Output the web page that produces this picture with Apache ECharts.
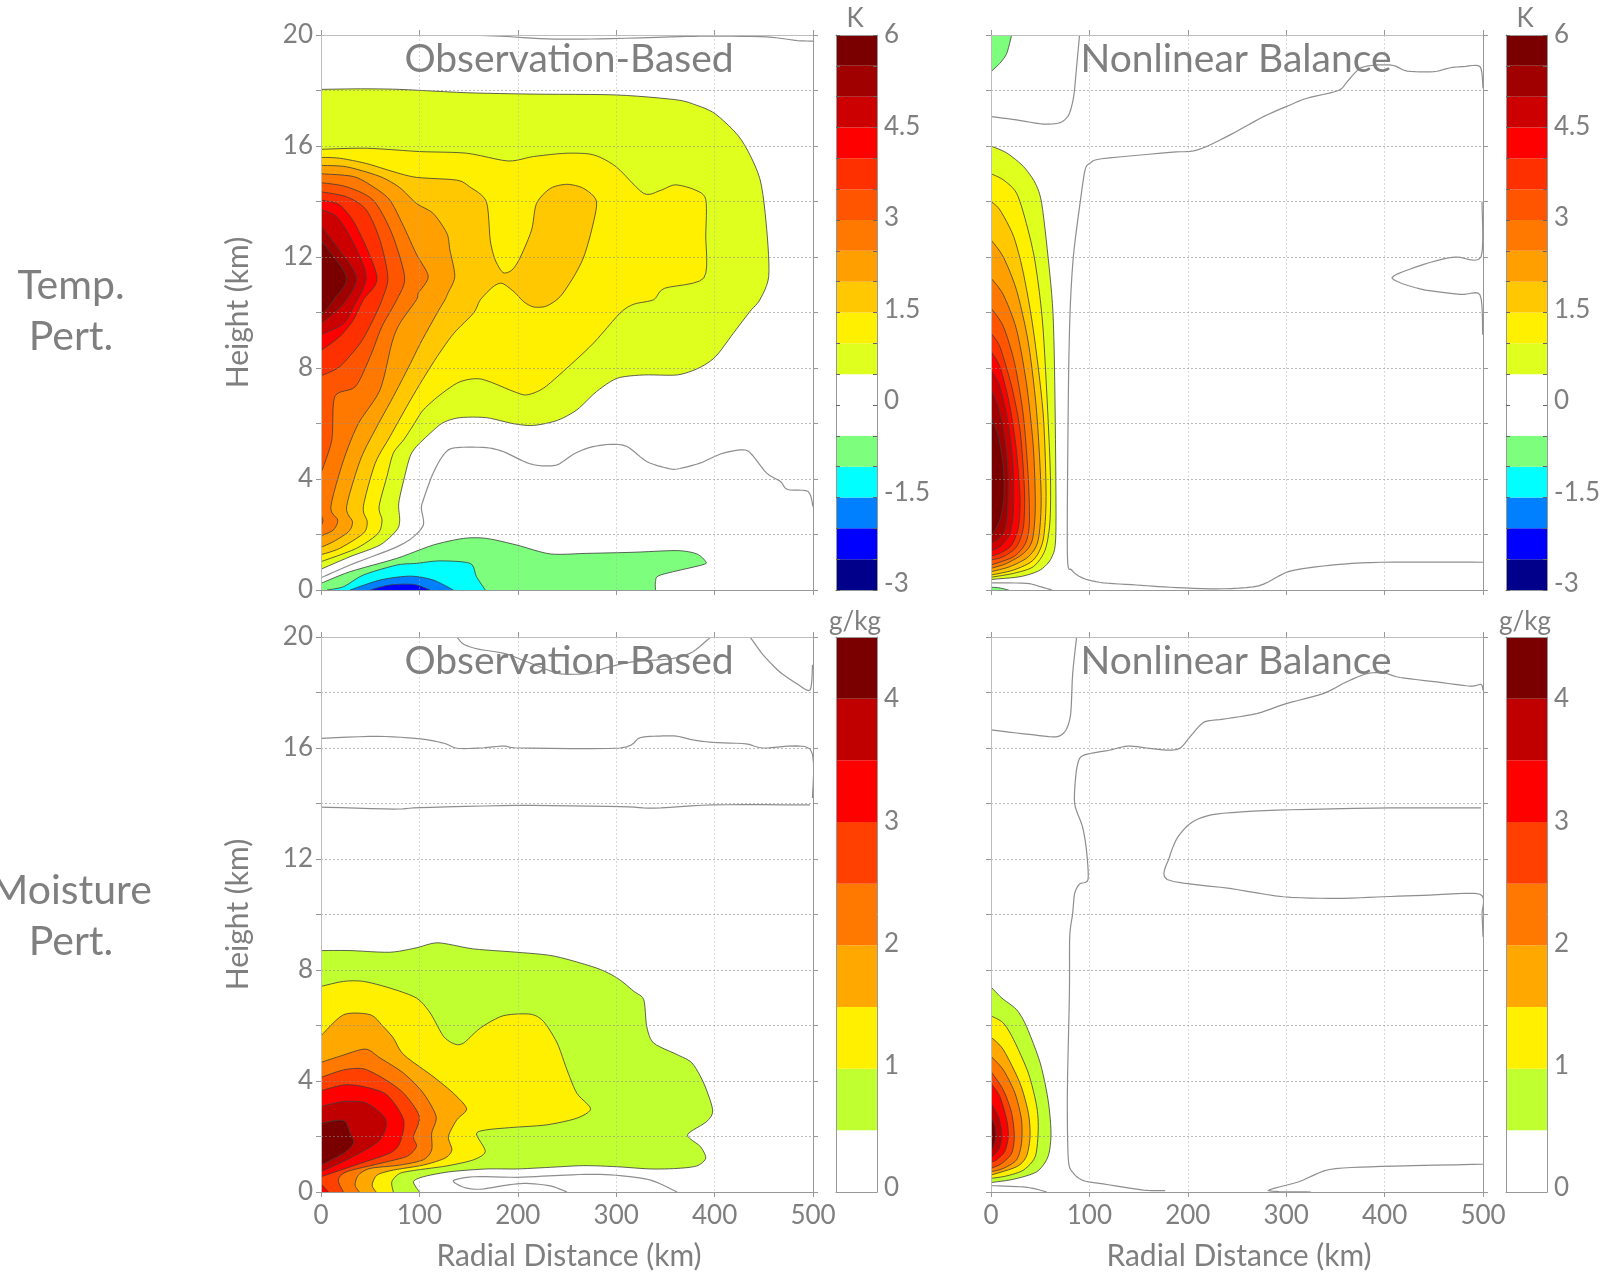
<!DOCTYPE html>
<html><head><meta charset="utf-8">
<style>html,body{margin:0;padding:0;background:#fff;overflow:hidden}#c{width:1604px;height:1275px}</style>
<script src="https://cdn.jsdelivr.net/npm/echarts@6/dist/echarts.min.js"></script></head>
<body><div id="c"></div>
<script>
// ---- colour scales (lower bound of each cell, and its colour) ----
const tempCells = [-3,-2.5,-2,-1.5,-1,-0.5,0,0.5,1,1.5,2,2.5,3,3.5,4,4.5,5,5.5];
const tempColors = ['#00008b','#0000ff','#0080ff','#00ffff','#7dff7d','#ffffff','#ffffff','#dfff1f','#fff000','#ffc800','#ffa000','#ff7800','#ff5500','#ff3000','#ff0000','#cc0000','#a00000','#7a0000'];
const moistCells = [0,0.5,1,1.5,2,2.5,3,3.5,4];
const moistColors = ['#ffffff','#c0ff30','#fff000','#ffa800','#ff7800','#ff4000','#ff0000','#c00000','#7a0000'];

// ---- Temperature, observation-based: [level, contour points (km, km)] ----
const tempObs = [
 [0.5,[[0,18.04],[40,18.06],[80,18.04],[148,17.92],[216,17.87],[300,17.84],[360,17.67],[380,17.49],[401,17.15],[427,16.23],[446,14.82],[453,12.98],[455,11.3],[446,10.46],[436,10.04],[419,9.25],[401,8.41],[384,8],[362,7.75],[328,7.75],[301,7.63],[280,7.15],[260,6.49],[240,6.11],[216,5.93],[196,5.99],[168,6.21],[141,6.21],[124,6.03],[111,5.65],[97,5.17],[90.5,4.81],[85,4.09],[79,3.13],[80,2.52],[77,2.16],[60,1.62],[29.5,1.2],[0,0.75]]],
 [1,[[0,15.88],[46,15.92],[100,15.8],[148,15.74],[190,15.46],[216,15.62],[250,15.74],[277,15.68],[300,15.25],[328,14.29],[345,14.4],[360,14.6],[380,14.42],[391,14.08],[391,12.8],[389,11.24],[349,10.87],[338,10.46],[318,10.3],[304,9.98],[277,8.9],[250,8],[226,7.27],[209,7.03],[196,7.15],[163,7.6],[141,7.5],[121,7.03],[104,6.49],[94,5.95],[84,5.41],[73.5,4.93],[67,4.09],[59,3],[62,2.52],[58,2.04],[36,1.5],[0,1.02]]],
 [1.5,[[0,15.59],[19,15.56],[46,15.37],[74,15.07],[97,14.87],[138,14.77],[151,14.53],[168,14],[172,12.6],[177,11.9],[185,11.44],[194,11.53],[202,11.95],[214,12.97],[219,13.93],[233,14.47],[250,14.62],[267,14.47],[280,14],[275,12.97],[267,12],[257,11.3],[243,10.57],[229,10.23],[216,10.2],[206,10.39],[196,10.75],[184,11.05],[175,10.93],[162,10.46],[155,9.98],[135,9.25],[118,8.41],[101,7.45],[87,6.6],[70,5.52],[55,4.56],[43,3],[47,2.46],[43,2.04],[19,1.5],[0,1.27]]],
 [2,[[0,15.3],[26,15.25],[60,14.9],[80,14.5],[97,13.93],[114,13.57],[128,12.85],[131,12.25],[136,11.3],[129,10.7],[126,10.46],[118,9.98],[101,8.89],[91,8.17],[73.5,6.97],[55,5.77],[40,4.69],[26,3],[32,2.46],[28,2.1],[12.5,1.74],[0,1.54]]],
 [2.5,[[0,15],[33,14.9],[53,14.53],[70,14.05],[84,13.1],[97,12.1],[109,11.3],[99,10.7],[97,10.46],[80,9.6],[72,8.9],[60,7.21],[38,6],[23,4.69],[10,3],[17,2.52],[12.5,2.16],[0,1.95]]],
 [3,[[0,14.68],[26,14.53],[53,14.05],[72,12.85],[85,11.27],[77,10.46],[62,9.5],[50,8.41],[35,7.33],[14,6.97],[11,5.41],[0,4.21]]],
 [3,[[0,2.7],[2,2.5],[0,2.3]]],
 [3.5,[[0,14.35],[26,14.17],[46,13.7],[60,12.6],[68,11.27],[62,10.46],[53,9.74],[40,8.9],[19,8.05],[0,7.72]]],
 [4,[[0,14.05],[19,13.87],[36,13.1],[57,11.27],[43,10.46],[33,9.74],[19,9.13],[0,8.63]]],
 [4.5,[[0,13.7],[16,13.45],[33,12.5],[46,11.27],[33,10.2],[23,9.6],[0,9.2]]],
 [5,[[0,13.1],[16,12.37],[36,11.27],[23,10.33],[0,9.6]]],
 [5.5,[[0,12.6],[26,11.27],[12.5,10.45],[0,9.85]]],
 [-0.5,[[0,0.24],[29.5,0.66],[77,1.14],[114,1.62],[145,1.86],[168,1.86],[199,1.62],[233,1.3],[270,1.32],[318,1.36],[362,1.42],[382,1.3],[391,1.02],[387,0.9],[345,0.54],[340,0.3],[340,0],[0,0]]],
 [-1,[[6,0],[23,0.12],[43,0.54],[77,0.9],[97,0.96],[121,1.05],[151.5,0.96],[158,0.48],[167,0]]],
 [-1.5,[[29.5,0],[60,0.36],[90.5,0.5],[114,0.36],[134.5,0]]],
 [-2,[[50,0],[70,0.18],[94,0.2],[111,0]]]
];
const tempObsZero = [
 [[146,20],[182,19.96],[230,19.86],[284,19.86],[365,19.94],[401,19.96],[453,19.93],[484,19.8],[500,19.78]],
 [[0,0.44],[29.5,0.9],[73.5,1.5],[92,1.86],[104,2.34],[102,2.94],[104,3.25],[112.5,4.09],[121,4.69],[129.5,5.05],[141,5.14],[168,5.13],[185,4.99],[209,4.59],[223,4.48],[240,4.51],[257,4.9],[273.5,5.14],[294,5.25],[311,5.17],[331,4.63],[351.5,4.39],[362,4.36],[385,4.57],[406,4.9],[426,5.05],[436,4.95],[453,4.21],[467,3.91],[474,3.62],[495,3.55],[500,3]]
];

// ---- Temperature, nonlinear balance ----
const tempBal = [
 [-0.5,[[0,18.68],[9,18.98],[16,19.34],[21,20],[0,20]]],
 [-0.5,[[0,0.1],[8,0.08],[18,0],[0,0]]],
 [0.5,[[0,16],[16,15.75],[33,15.26],[45,14.66],[51.5,13.94],[58,12],[63,9.98],[65,6.97],[66,2.16],[62,1.2],[50,0.72],[29.5,0.48],[0,0.38]]],
 [1,[[0,15],[12.5,14.78],[26,14.3],[36,13.2],[45,11.78],[53,9.38],[60,4.57],[60,2.52],[55,1.44],[43,0.84],[23,0.6],[0,0.46]]],
 [1.5,[[0,14],[9,13.7],[23,12.74],[33,11.4],[43,9.38],[53,6.37],[56,3.37],[53,1.8],[43,1.08],[23,0.72],[0,0.54]]],
 [2,[[0,12.62],[12.5,12],[26,10.8],[38,8.9],[46.5,6.37],[51,3.37],[48,1.8],[38,1.2],[19,0.84],[0,0.66]]],
 [2.5,[[0,11.24],[12.5,10.64],[26,9.38],[36,7.45],[43,5.17],[45,3],[42,1.8],[33,1.32],[16,0.96],[0,0.78]]],
 [3,[[0,10.16],[12.5,9.5],[24,8.17],[33,6.25],[38,3.97],[39,2.4],[35,1.68],[23,1.2],[0,0.9]]],
 [3.5,[[0,9.25],[9,8.77],[21,7.33],[29.5,5.77],[34,3.6],[33,2.28],[26,1.56],[12.5,1.2],[0,1.08]]],
 [4,[[0,8.6],[9,8.05],[18.6,6.73],[25.4,5.17],[29.5,3.37],[28,2.28],[21,1.62],[9,1.32],[0,1.23]]],
 [4.5,[[0,7.93],[9,7.33],[17.6,6],[22.7,4.33],[22.7,2.76],[18.6,1.98],[9,1.56],[0,1.42]]],
 [5,[[0,7.2],[7.5,6.6],[14,5.5],[17.6,4.09],[16.6,2.76],[12.5,2.04],[0,1.68]]],
 [5.5,[[0,6.25],[7.5,5.53],[12.5,4.45],[13.2,3.37],[9,2.52],[0,1.92]]]
];
const tempBalZero = [
 [[0,17.06],[26,16.94],[53,16.79],[70,16.84],[79,17.12],[84,17.78],[87,18.86],[90,20]],
 [[0,0.26],[36,0.24],[50,0.12],[62,0]],
 [[500,18.08],[497,18.86],[480,18.86],[467,18.82],[450,18.68],[423,18.7],[409,18.9],[392,18.92],[375,18.8],[362,18.32],[353,18],[321,17.72],[304,17.48],[277,17.06],[243,16.4],[210,15.86],[182,15.77],[112.5,15.54],[100.7,15.38],[95.6,15.14],[90.5,13.94],[83.7,12.02],[80.3,9.98],[78.6,6.97],[77.6,1.32],[82,0.72],[94,0.42],[114,0.26],[148,0.18],[182,0.1],[230,0.04],[272,0.15],[303,0.67],[344,0.89],[396,1],[500,1]],
 [[499,14],[498,12],[473.6,12],[460,11.93],[436,11.69],[407.5,11.25],[436,10.85],[477,10.65],[497,10.63],[499.7,9.2]]
];

// ---- Moisture, observation-based ----
const moistObs = [
 [0.5,[[0,8.7],[29.5,8.7],[70,8.64],[97,8.8],[119,8.98],[155,8.76],[199,8.64],[237,8.5],[280,8.07],[301,7.71],[318,7.23],[328,6.93],[331,5.97],[338,5.37],[362,4.95],[377,4.65],[389,3.92],[398,2.96],[392,2.54],[372.5,2.06],[385.5,1.64],[391,1.22],[382,0.94],[362,0.85],[335,0.83],[301,0.91],[267,0.95],[233,0.89],[199,0.83],[168,0.83],[131,0.73],[104,0.55],[94,0.37],[100,0],[0,0]]],
 [1,[[0,7.41],[23,7.59],[43,7.59],[70,7.35],[97,6.99],[111,6.45],[124.5,5.61],[136,5.33],[145,5.37],[162,5.91],[185,6.35],[212.5,6.41],[226,6.15],[240,5.37],[250,4.4],[260,3.56],[274,3],[260,2.66],[229.5,2.42],[196,2.33],[168.5,2.24],[158,2.09],[167,1.46],[155,1.16],[128,0.94],[97,0.79],[80,0.67],[72,0.37],[73.5,0],[0,0]]],
 [1.5,[[0,5.63],[23,6.39],[50,6.39],[63,5.97],[73.5,5.55],[84,4.95],[114,4.16],[134.5,3.56],[148,3],[138,2.6],[129.5,2],[133,1.52],[126,1.22],[104,0.97],[73.5,0.79],[57,0.61],[52,0.25],[56,0],[0,0]]],
 [2,[[0,4.67],[19,4.89],[45,5.15],[60,4.83],[84,4.28],[104,3.56],[117,2.72],[112.5,2.12],[112.5,1.52],[104,1.16],[80,0.97],[50,0.85],[38,0.61],[34.6,0.25],[39,0],[0,0]]],
 [2.5,[[0,4.13],[23,4.4],[43,4.44],[63,4.1],[84,3.56],[100,2.72],[94,2],[97,1.64],[87,1.28],[60,1.03],[26,0.73],[17.6,0.43],[22.7,0],[0,0]]],
 [3,[[0,3.65],[23,3.86],[43,3.8],[67,3.5],[84,2.6],[80,1.76],[70,1.4],[40,1.03],[0,0.55]]],
 [3,[[0,0.3],[7.5,0],[0,0]]],
 [3.5,[[0,3.08],[23,3.26],[46.5,3.2],[66,2.6],[60,1.88],[33,1.28],[0,0.73]]],
 [4,[[0,2.48],[23,2.58],[29.5,2.12],[33,1.76],[23,1.4],[0,0.97]]]
];
const moistObsZero = [
 [[250,0],[233,0.22],[209,0.31],[189,0.25],[162,0.1],[145,0.17],[134.5,0.41],[155,0.55],[199,0.53],[237,0.59],[273.5,0.64],[304,0.59],[335,0.43],[362,0]],
 [[0,16.35],[58,16.42],[101,16.33],[125,16.17],[138.5,15.99],[162,16],[186,16.07],[202.7,16],[304,16],[324,16.37],[344.6,16.43],[361,16.43],[378,16.29],[398.6,16.2],[432,16.15],[449,16],[497,15.97],[499.5,14.2]],
 [[0,13.87],[74,13.8],[101,13.85],[199,13.93],[304,13.89],[338,13.83],[398.6,13.95],[497,13.95]],
 [[138,20],[145,19.74],[159,19.57],[186,19.41],[209,19.11],[233,18.78],[247,18.66],[270,18.69],[294,18.93],[318,19.11],[358,19.23],[378,19.47],[396,20]],
 [[436,20],[449.5,19.35],[466,18.75],[483,18.33],[497,18.09],[499.5,19]]
];

// ---- Moisture, nonlinear balance ----
const moistBal = [
 [0.5,[[0,7.39],[11,6.99],[26,6.57],[36,5.97],[50,4.65],[58,3.32],[61,2.12],[58,1.28],[46.5,0.73],[23,0.46],[0,0.34]]],
 [1,[[0,6.35],[12.5,6.09],[23,5.49],[38,4.28],[46.5,3.08],[48,2.24],[45,1.28],[33,0.79],[16,0.58],[0,0.49]]],
 [1.5,[[0,5.58],[12.5,5.13],[29.5,3.92],[38,2.84],[39.7,2],[36,1.28],[26,0.91],[0,0.61]]],
 [2,[[0,4.89],[12.5,4.4],[24.4,3.56],[31,2.6],[31,1.76],[26,1.16],[12.5,0.85],[0,0.73]]],
 [2.5,[[0,4.34],[12.5,3.68],[21,2.84],[23.7,2],[21,1.4],[11,1.03],[0,0.85]]],
 [3,[[0,3.92],[9,3.44],[16,2.6],[17.6,2],[14,1.46],[5.8,1.16],[0,1.07]]],
 [3.5,[[0,3.2],[7.5,2.72],[11,2.12],[8.5,1.58],[0,1.22]]],
 [4,[[0,2.72],[4,2.36],[5,2],[2.4,1.64],[0,1.52]]]
];
const moistBalZero = [
 [[0,0.23],[29.5,0.19],[43,0.13],[56.6,0]],
 [[0,16.65],[39,16.49],[66,16.4],[76,16.64],[81,17.24],[83,18.68],[87,20]],
 [[177,0.05],[155,0.07],[114,0.29],[94,0.41],[84,0.67],[78.6,1.16],[77.6,3.56],[79.7,7.17],[80,9.2],[83,10.04],[85,10.76],[90,11.1],[98.6,11.26],[97,12.32],[93,13.16],[85,14],[86.4,15.08],[90,15.62],[98,15.78],[120,15.92],[139,16.07],[158,16],[181.5,15.92],[193,16.02],[205,16.52],[217,16.94],[236,17.04],[270,17.24],[300,17.6],[337.6,17.96],[361,18.38],[382,18.68],[398.7,18.71],[415.7,18.54],[453,18.38],[487,18.23],[498,18.29],[500,18.08]],
 [[498,13.84],[405.5,13.84],[290,13.76],[229,13.62],[205,13.34],[190,12.8],[181.5,12.08],[179,11.26],[242.6,10.94],[297,10.64],[351,10.58],[399,10.64],[446,10.7],[497,10.73],[499,10],[500,9.2]],
 [[500,1],[396,0.92],[344,0.81],[313,0.37],[282,0.05],[325,0]]
];

const GRAY='#7f7f7f', FONT='Lato';
const LIGHT='#bdbdbd', DARK='#989898';
const TICK=26, NAME=30, CONTOUR='rgba(60,60,60,0.8)', ZERO='#8e8e8e';

const panels=[
 {left:321,top:35,  titleX:569, title:'Observation-Based',bands:tempObs, zero:tempObsZero, cells:tempCells, colors:tempColors, ylab:true, xlab:false},
 {left:991,top:35,  titleX:1236,title:'Nonlinear Balance',bands:tempBal, zero:tempBalZero, cells:tempCells, colors:tempColors, ylab:false,xlab:false},
 {left:321,top:637, titleX:569, title:'Observation-Based',bands:moistObs,zero:moistObsZero,cells:moistCells,colors:moistColors,ylab:true, xlab:true},
 {left:991,top:637, titleX:1236,title:'Nonlinear Balance',bands:moistBal,zero:moistBalZero,cells:moistCells,colors:moistColors,ylab:false,xlab:true}
];
const W=492,H=555;
const grid=[],xAxis=[],yAxis=[],series=[],title=[];

function txt(text,x,y,size,extra){
 title.push({text,left:x,top:y,textAlign:'center',textVerticalAlign:'middle',z:10,padding:0,
  textStyle:Object.assign({color:GRAY,fontFamily:FONT,fontSize:size,fontWeight:'normal'},extra||{})});
}
function baseAxis(g,pos,color,extra){
 return Object.assign({type:'value',gridIndex:g,position:pos,z:5,
  axisLine:{show:true,onZero:false,lineStyle:{color:color,width:1}},
  axisTick:{show:true,length:5,lineStyle:{color:DARK}},
  axisLabel:{show:false},splitLine:{show:false}},extra);
}
// Rendering only: draws a rounded curve through the contour's points, in pixels.
function rounded(run){
 if(run.length<3) return run;
 const out=[],k=0.4,n=6;
 for(let i=0;i<run.length-1;i++){
  const p0=run[Math.max(i-1,0)],p1=run[i],p2=run[i+1],p3=run[Math.min(i+2,run.length-1)];
  const t1=[(p2[0]-p0[0])*k,(p2[1]-p0[1])*k],t2=[(p3[0]-p1[0])*k,(p3[1]-p1[1])*k];
  for(let j=0;j<n;j++){
   const t=j/n,t2p=t*t,t3=t2p*t;
   const a=2*t3-3*t2p+1,b=t3-2*t2p+t,c=-2*t3+3*t2p,d=t3-t2p;
   out.push([a*p1[0]+b*t1[0]+c*p2[0]+d*t2[0],a*p1[1]+b*t1[1]+c*p2[1]+d*t2[1]]);
  }
 }
 out.push(run[run.length-1]);
 return out;
}
function contourItem(pts,fill,stroke,width){
 return function(params,api){
  if(params.dataIndex!==0) return null;
  const c=pts.map(p=>api.coord(p));
  const runs=[];let run=[c[0]];
  for(let i=1;i<pts.length;i++){
   const a=pts[i-1],b=pts[i];
   const onEdge=(a[0]===0&&b[0]===0)||(a[1]===0&&b[1]===0)||(a[1]===20&&b[1]===20);
   if(onEdge){runs.push(run);run=[c[i]];}else run.push(c[i]);
  }
  runs.push(run);
  const curves=runs.map(rounded);
  const kids=[];
  if(fill) kids.push({type:'polygon',shape:{points:[].concat(...curves)},style:{fill:fill,stroke:null},silent:true});
  curves.forEach(r=>{if(r.length>1)kids.push({type:'polyline',shape:{points:r},style:{fill:null,stroke:stroke,lineWidth:width},silent:true});});
  return {type:'group',children:kids};
 };
}
panels.forEach((p,i)=>{
 const g=grid.length;
 grid.push({left:p.left,top:p.top,width:W,height:H});
 const xi=xAxis.length, yi=yAxis.length;
 xAxis.push(baseAxis(g,'bottom',DARK,{min:0,max:500,interval:100,
   splitLine:{show:true,lineStyle:{type:[2,2],color:'rgba(170,170,170,0.45)',width:1}},
   axisLabel:{show:p.xlab,color:GRAY,fontFamily:FONT,fontSize:TICK,margin:11},
   name:p.xlab?'Radial Distance (km)':'',nameLocation:'middle',nameGap:49,
   nameTextStyle:{color:GRAY,fontFamily:FONT,fontSize:NAME,padding:[0,0,0,4]}}));
 xAxis.push(baseAxis(g,'top',LIGHT,{min:0,max:500,interval:100}));
 yAxis.push(baseAxis(g,'left',LIGHT,{min:0,max:20,interval:2,
   splitLine:{show:true,lineStyle:{type:[2,2],color:'rgba(140,140,140,0.6)',width:1}},
   axisLabel:{show:p.ylab,color:GRAY,fontFamily:FONT,fontSize:TICK,margin:8,padding:[3,0,0,0],
     formatter:v=>v%4===0?String(v):''},
   name:p.ylab?'Height (km)':'',nameLocation:'middle',nameGap:68,nameRotate:90,
   nameTextStyle:{color:GRAY,fontFamily:FONT,fontSize:NAME}}));
 yAxis.push(baseAxis(g,'right',DARK,{min:0,max:20,interval:2}));
 const colorOf=l=>{const k=l>0?l:l-0.5;return p.colors[p.cells.indexOf(k)];};
 p.bands.forEach(b=>{
  series.push({type:'custom',name:'level '+b[0],xAxisIndex:xi,yAxisIndex:yi,z:2,clip:true,silent:true,
    coordinateSystem:'cartesian2d',data:b[1],encode:{x:0,y:1},
    renderItem:contourItem(b[1],colorOf(b[0]),CONTOUR,1)});
 });
 p.zero.forEach(z=>{
  series.push({type:'custom',name:'level 0',xAxisIndex:xi,yAxisIndex:yi,z:2,clip:true,silent:true,
    coordinateSystem:'cartesian2d',data:z,encode:{x:0,y:1},
    renderItem:contourItem(z,null,ZERO,1.2)});
 });
 txt(p.title,p.titleX,p.top+24,39);

 // colour bar
 const barLeft=p.left+515, barW=41, temp=i<2;
 const step=0.5, lo=p.cells[0], hi=p.cells[p.cells.length-1]+step;
 const cg=grid.length;
 grid.push({left:barLeft,top:p.top,width:barW,height:H});
 const cx=xAxis.length, cy=yAxis.length;
 const barTick={show:temp,inside:true,length:4,lineStyle:{color:'#666'}};
 xAxis.push(baseAxis(cg,'bottom',DARK,{min:0,max:1,axisTick:{show:false}}));
 xAxis.push(baseAxis(cg,'top',DARK,{min:0,max:1,axisTick:{show:false}}));
 yAxis.push(baseAxis(cg,'left',DARK,{min:lo,max:hi,interval:step,axisTick:barTick}));
 yAxis.push(baseAxis(cg,'right',DARK,{min:lo,max:hi,interval:step,axisTick:barTick}));
 const cellData=p.cells.map((c,k)=>[0,c,1,c+step,p.colors[k]]);
 series.push({type:'custom',name:'colorbar',xAxisIndex:cx,yAxisIndex:cy,z:2,silent:true,data:cellData,encode:{x:[0,2],y:[1,3]},
  renderItem:(params,api)=>{
   const d=cellData[params.dataIndex];
   const a=api.coord([d[0],d[3]]),b=api.coord([d[2],d[1]]);
   return {type:'rect',shape:{x:a[0],y:a[1],width:b[0]-a[0],height:b[1]-a[1]},style:{fill:d[4]},silent:true};
  }});
 // colour bar labels: their own axis, sitting slightly inside the bar's span as in the figure
 const lg=grid.length;
 grid.push(temp?{left:barLeft+barW,top:p.top,width:1,height:549}:{left:barLeft+barW,top:p.top+62,width:1,height:489});
 xAxis.push({type:'value',gridIndex:lg,min:0,max:1,show:false});
 yAxis.push({type:'value',gridIndex:lg,position:'left',z:5,min:temp?-3:0,max:temp?6:4,interval:temp?1.5:1,
  axisLine:{show:false},axisTick:{show:false},splitLine:{show:false},
  axisLabel:{inside:true,margin:7,padding:[3,0,0,0],color:GRAY,fontFamily:FONT,fontSize:TICK,formatter:v=>String(v)}});
 txt(temp?'K':'g/kg',barLeft+19,temp?19:622,26);
});
txt('Temp.\nPert.',71,311,41,{lineHeight:51});
txt('Moisture\nPert.',71,916,41,{lineHeight:51});

const chart=echarts.init(document.getElementById('c'),null,{renderer:'canvas'});
chart.setOption({animation:false,backgroundColor:'#fff',title,grid,xAxis,yAxis,series,tooltip:{show:false}});
</script></body></html>
